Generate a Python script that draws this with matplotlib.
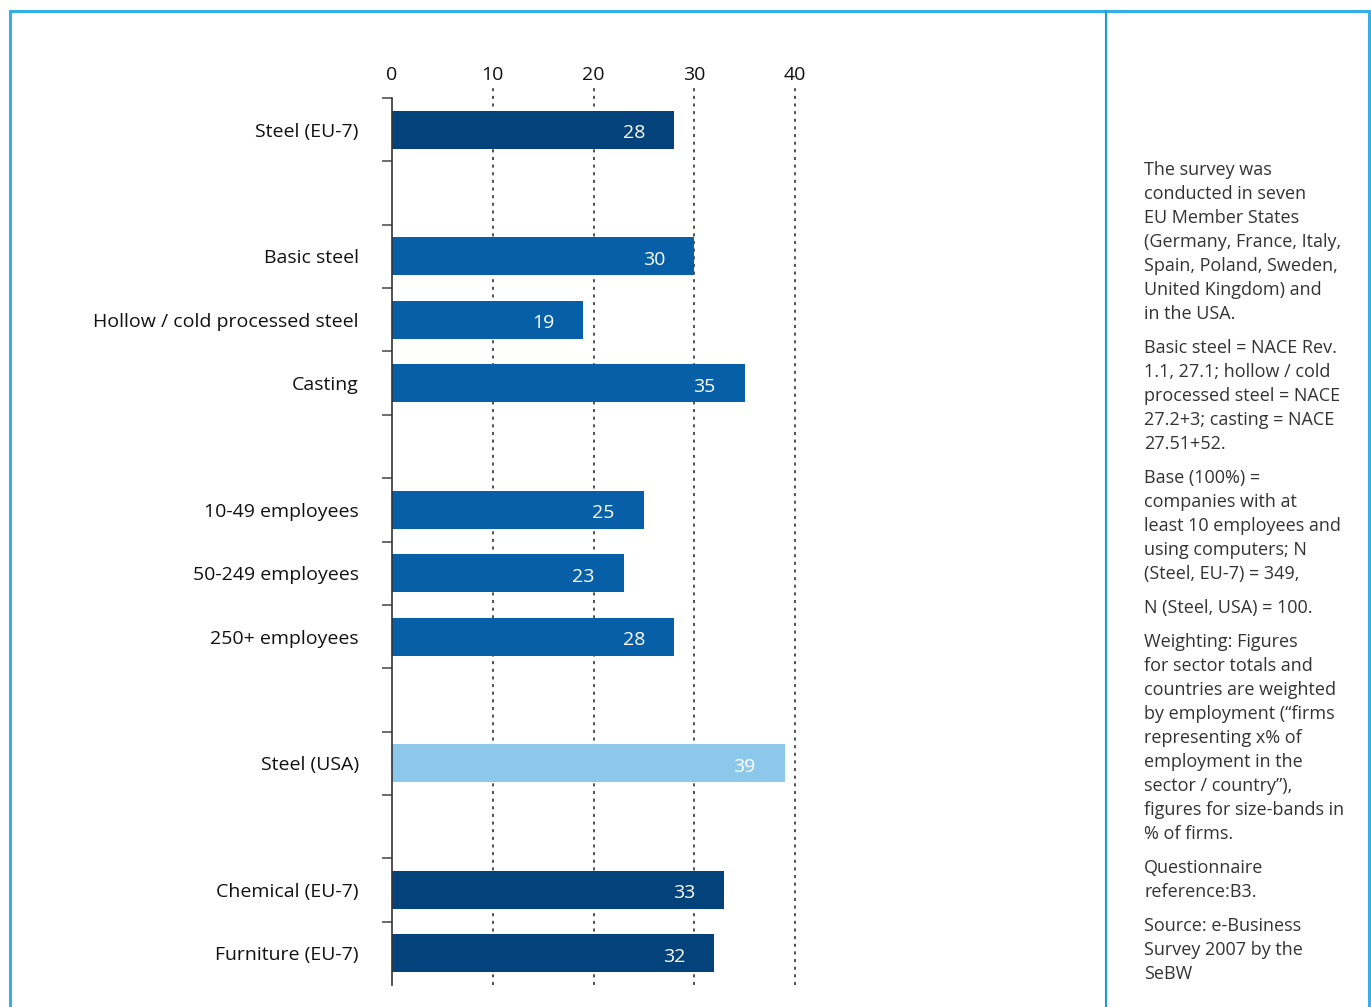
import numpy as np
import matplotlib.pyplot as plt
import matplotlib.transforms as mtransforms
from matplotlib.lines import Line2D

plt.rcParams['font.family'] = ['Open Sans', 'DejaVu Sans']

# share of companies, in %
categories = ['Steel (EU-7)',
              'Basic steel', 'Hollow / cold processed steel', 'Casting',
              '10-49 employees', '50-249 employees', '250+ employees',
              'Steel (USA)',
              'Chemical (EU-7)', 'Furniture (EU-7)']
values = [28, 30, 19, 35, 25, 23, 28, 39, 33, 32]
groups = [0, 1, 1, 1, 2, 2, 2, 3, 4, 4]
kinds = ['total', 'sub', 'sub', 'sub', 'sub', 'sub', 'sub', 'usa', 'total', 'total']
x_ticks = [0, 10, 20, 30, 40]

notes = [
    ['The survey was', 'conducted in seven', 'EU Member States',
     '(Germany, France, Italy,', 'Spain, Poland, Sweden,',
     'United Kingdom) and', 'in the USA.'],
    ['Basic steel = NACE Rev.', '1.1, 27.1; hollow / cold',
     'processed steel = NACE', '27.2+3; casting = NACE', '27.51+52.'],
    ['Base (100%) =', 'companies with at', 'least 10 employees and',
     'using computers; N', '(Steel, EU-7) = 349,'],
    ['N (Steel, USA) = 100.'],
    ['Weighting: Figures', 'for sector totals and', 'countries are weighted',
     'by employment (\u201cfirms', 'representing x% of', 'employment in the',
     'sector / country\u201d),', 'figures for size-bands in', '% of firms.'],
    ['Questionnaire', 'reference:B3.'],
    ['Source: e-Business', 'Survey 2007 by the', 'SeBW'],
]

palette = {'total': '#03427a', 'sub': '#075fa8', 'usa': '#8bc8ea'}

W, H = 1371, 1007
fig = plt.figure(figsize=(W / 100, H / 100), dpi=100)

# one empty row between groups
pos = np.arange(len(categories)) + np.array(groups)
n_rows = pos[-1] + 1

ax = fig.add_axes([392 / W, 1 - 985 / H, (795 - 392) / W, (985 - 98) / H])
ax.barh(pos, values, height=0.6, color=[palette[k] for k in kinds], zorder=2)

for p, v in zip(pos, values):
    ax.annotate(str(v), (v, p), xytext=(-21, -2.5), textcoords='offset points',
                ha='right', va='center', color='white', fontsize=14, zorder=3)

ax.set_xlim(0, 40)
ax.set_ylim(n_rows - 0.5, -0.5)

# dotted grid, poking a little above the plot area
for t in x_ticks[1:]:
    ax.axvline(t, ymin=0, ymax=1.012, color='#222222', lw=1.1,
               ls=(0, (2, 3)), clip_on=False, zorder=1)

ax.xaxis.tick_top()
ax.set_xticks(x_ticks)
ax.tick_params(axis='x', length=0, pad=10, labelsize=14, labelcolor='#111111')

ax.set_yticks(pos)
ax.set_yticklabels(categories)
nudge = mtransforms.ScaledTranslation(0, -2 / 100, fig.dpi_scale_trans)
for lab in ax.get_yticklabels():
    lab.set_transform(lab.get_transform() + nudge)
ax.tick_params(axis='y', which='major', length=0, pad=24, labelsize=14,
               labelcolor='#111111')
ax.set_yticks(np.arange(-0.5, n_rows - 1), minor=True)
ax.tick_params(axis='y', which='minor', length=7.2, width=1.1, color='#444444',
               direction='out')

for s in ['top', 'right', 'bottom']:
    ax.spines[s].set_visible(False)
ax.spines['left'].set_color('#333333')
ax.spines['left'].set_linewidth(1.2)

# frame and divider of the side panel
frame = '#35b0e6'
fig.add_artist(Line2D([10 / W, 10 / W], [0, 1 - 11 / H], color=frame, lw=2.2))
fig.add_artist(Line2D([10 / W, 1369 / W], [1 - 11 / H, 1 - 11 / H], color=frame, lw=2.2))
fig.add_artist(Line2D([1369 / W, 1369 / W], [0, 1 - 11 / H], color=frame, lw=2.2))
fig.add_artist(Line2D([1106 / W, 1106 / W], [0, 1 - 11 / H], color='#1a9ad9', lw=1.5))

# side notes
y = 170
for para in notes:
    for line in para:
        fig.text(1144 / W, 1 - y / H, line, ha='left', va='center',
                 fontsize=13, color='#333333')
        y += 24
    y += 10

fig.savefig('out.png', dpi=100, facecolor='white')
